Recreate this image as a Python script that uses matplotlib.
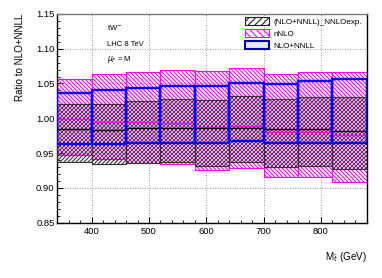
import matplotlib
matplotlib.use("Agg")
import matplotlib.pyplot as plt
from matplotlib.patches import Patch
from matplotlib.path import Path
from matplotlib.transforms import IdentityTransform, Affine2D
from matplotlib.collections import LineCollection
from matplotlib.ticker import MultipleLocator, FormatStrFormatter
import numpy as np

plt.rcParams['font.family'] = ['Liberation Sans', 'DejaVu Sans']
plt.rcParams['hatch.linewidth'] = 0.8

# bins in M (GeV)
edges = [340, 400, 460, 520, 580, 640, 700, 760, 820, 880]

# nNLO band (ratio to NLO+NNLL)
nnlo_hi = [1.057, 1.063, 1.067, 1.070, 1.068, 1.072, 1.064, 1.067, 1.067]
nnlo_lo = [0.947, 0.941, 0.936, 0.934, 0.926, 0.928, 0.916, 0.916, 0.908]
nnlo_c = [0.999, 0.995, 0.995, 0.993, 0.988, 0.989, 0.981, 0.980, 0.976]

# (NLO+NNLL)_NNLOexp. band
exp_hi = [1.020, 1.021, 1.025, 1.027, 1.026, 1.032, 1.027, 1.031, 1.030]
exp_lo = [0.937, 0.935, 0.936, 0.937, 0.932, 0.937, 0.930, 0.931, 0.927]
exp_c = [0.985, 0.983, 0.986, 0.986, 0.986, 0.986, 0.984, 0.984, 0.982]

# NLO+NNLL band
nnll_hi = [1.037, 1.041, 1.043, 1.047, 1.046, 1.050, 1.049, 1.053, 1.057]
nnll_lo = [0.963, 0.963, 0.965, 0.965, 0.965, 0.967, 0.965, 0.965, 0.965]

left = np.array(edges[:-1])
width = np.diff(edges)

fig = plt.figure(figsize=(3.82, 2.78), dpi=100)
ax = fig.add_axes([0.150, 0.199, 0.810, 0.751])
ax.set_xlim(340, 880)
ax.set_ylim(0.85, 1.15)

ax.set_axisbelow(True)
ax.grid(True, which='major', linestyle=(0, (1, 2)), color='#777777', linewidth=0.6)


def hatch_boxes(lo, hi, color, direction, spacing=4.0, lw=0.8, z=2):
    # ROOT-like hatch: diagonal lines clipped to the boxes
    rects = [Path.unit_rectangle().transformed(Affine2D().scale(w, h - l).translate(x, l))
             for x, w, l, h in zip(left, width, lo, hi)]
    clip = Path.make_compound_path(*rects)
    W, H = fig.bbox.width, fig.bbox.height
    segs = []
    for c in np.arange(-H - 10, W + H + 10, spacing):
        if direction == '/':
            segs.append([(c, 0), (c + H, H)])
        else:
            segs.append([(c, 0), (c - H, H)])
    lc = LineCollection(segs, colors=color, linewidths=lw,
                        transform=IdentityTransform(), zorder=z)
    ax.add_collection(lc, autolim=False)
    lc.set_clip_path(clip, ax.transData)
    ax.bar(left, np.array(hi) - np.array(lo), width, bottom=lo, align='edge',
           facecolor='none', edgecolor=color, linewidth=0.8, zorder=z)


# light fill of the NLO+NNLL band
lo = np.array(nnll_lo)
ax.bar(left, np.array(nnll_hi) - lo, width, bottom=lo, align='edge',
       color='#e8e8f4', alpha=0.6, linewidth=0, zorder=1)

hatch_boxes(nnlo_lo, nnlo_hi, '#ff00ff', '\\', z=2)
hatch_boxes(exp_lo, exp_hi, '#333333', '/', z=3)

ax.hlines(nnlo_c, left, left + width, color='#ff00ff', linewidth=1.0, zorder=4)
ax.hlines(exp_c, left, left + width, color='black', linewidth=1.0, zorder=4)

lo = np.array(nnll_lo)
ax.bar(left, np.array(nnll_hi) - lo, width, bottom=lo, align='edge', facecolor='none',
       edgecolor='#0000ff', linewidth=1.7, zorder=5)

ax.xaxis.set_major_locator(MultipleLocator(100))
ax.xaxis.set_minor_locator(MultipleLocator(20))
ax.yaxis.set_major_locator(MultipleLocator(0.05))
ax.yaxis.set_minor_locator(MultipleLocator(0.01))
ax.yaxis.set_major_formatter(FormatStrFormatter('%.2f'))
ax.tick_params(which='both', direction='in', top=False, right=False, labelsize=6.8)
ax.tick_params(which='major', length=4.5, width=0.8, pad=3)
ax.tick_params(which='minor', length=2.5, width=0.6)
ax.tick_params(axis='y', pad=2)
for s in ax.spines.values():
    s.set_linewidth(1.0)
ax.spines['top'].set_color('#777777')

ax.set_ylabel('Ratio to NLO+NNLL', fontsize=7.1, loc='top', labelpad=8)
ax.set_xlabel(r'M$_{\bar{t}}$ (GeV)', fontsize=7.1, loc='right', labelpad=10)

ax.text(0.162, 0.93, r'tW$^{-}$', transform=ax.transAxes, fontsize=5.5, va='center')
ax.text(0.162, 0.855, 'LHC 8 TeV', transform=ax.transAxes, fontsize=5.5, va='center')
ax.text(0.162, 0.78, r'$\mu_F$ = M', transform=ax.transAxes, fontsize=5.5, va='center')

handles = [
    Patch(facecolor='none', edgecolor='#222222', hatch='/////', linewidth=0.8),
    Patch(facecolor='none', edgecolor='#ff00ff', hatch='\\\\\\\\\\', linewidth=0.8),
    Patch(facecolor='#e8e8f4', edgecolor='#0000aa', linewidth=1.5),
]
labels = ['(NLO+NNLL)_NNLOexp.', 'nNLO', 'NLO+NNLL']
fig.legend(handles, labels, loc='upper left', bbox_to_anchor=(0.641, 0.938),
           frameon=False, fontsize=5.8, handlelength=3.0, handleheight=1.15,
           handletextpad=0.6, labelspacing=0.38, borderpad=0, borderaxespad=0)

fig.savefig('out.png', dpi=100)
